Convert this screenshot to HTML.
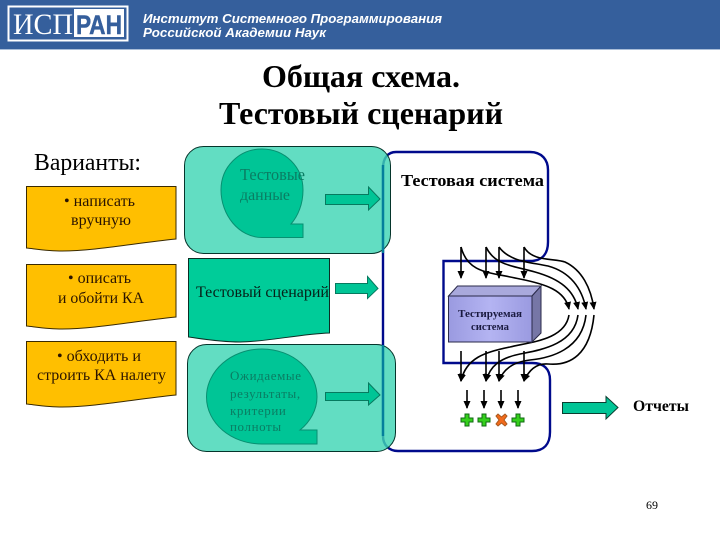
<!DOCTYPE html>
<html><head><meta charset="utf-8"><style>
html,body{margin:0;padding:0;background:#fff;width:720px;height:540px;overflow:hidden}
svg{display:block}
text{font-family:"Liberation Serif","Noto Serif CJK SC",serif}
.s{font-family:"Liberation Sans","Noto Sans CJK SC",sans-serif}
</style></head><body>
<svg width="720" height="540" viewBox="0 0 720 540" xmlns="http://www.w3.org/2000/svg">
<defs>
<marker id="a" markerWidth="8" markerHeight="8" refX="7" refY="4" orient="auto" markerUnits="userSpaceOnUse"><path d="M0,0.5L8,4L0,7.5Z" fill="#000"/></marker>
<linearGradient id="f" x1="0" y1="0" x2="1" y2="0"><stop offset="0" stop-color="#9a9ae0"/><stop offset=".5" stop-color="#b4b4f2"/><stop offset="1" stop-color="#9a9ae0"/></linearGradient>
</defs>
<rect width="720" height="49" fill="#355f9c"/>
<rect y="49" width="720" height="1" fill="#a9bdd8"/>
<rect x="8.500" y="6.500" width="119" height="34" fill="none" stroke="#fff" stroke-width="2"/>
<text x="13" y="34" font-size="30" fill="#fff" textLength="60" lengthAdjust="spacingAndGlyphs">ИСП</text>
<rect x="74" y="9" width="50" height="28" fill="#fff"/>
<text class="s" x="76" y="34" font-size="27" font-weight="bold" fill="#355f9c" stroke="#355f9c" stroke-width=".5" textLength="46" lengthAdjust="spacingAndGlyphs">РАН</text>
<text class="s" x="143" y="23" font-size="13" font-weight="bold" font-style="italic" fill="#fff" textLength="299" lengthAdjust="spacingAndGlyphs">Институт Системного Программирования</text>
<text class="s" x="143" y="37" font-size="13" font-weight="bold" font-style="italic" fill="#fff" textLength="183" lengthAdjust="spacingAndGlyphs">Российской Академии Наук</text>

<text x="262" y="87" font-size="32" font-weight="bold" textLength="198" lengthAdjust="spacingAndGlyphs">Общая схема.</text>
<text x="219" y="124" font-size="32" font-weight="bold" textLength="284" lengthAdjust="spacingAndGlyphs">Тестовый сценарий</text>
<text x="34" y="170" font-size="24" textLength="107" lengthAdjust="spacingAndGlyphs">Варианты:</text>

<g fill="#ffbf00" stroke="#3a2a00" stroke-width="1">
<path d="M26.500,186.500H176V239C135,243 95,251 62,251C48,251 36,249 26.500,248Z"/>
<path d="M26.500,264.500H176V317C135,321 95,329 62,329C48,329 36,327 26.500,326Z"/>
<path d="M26.500,341.500H176V395C135,399 95,407 62,407C48,407 36,405 26.500,404Z"/>
</g>
<g font-size="15.500" fill="#2a1400">
<text x="64" y="206" textLength="71" lengthAdjust="spacingAndGlyphs">• написать</text><text x="71" y="225" textLength="60" lengthAdjust="spacingAndGlyphs">вручную</text>
<text x="68" y="283" textLength="63" lengthAdjust="spacingAndGlyphs">• описать</text><text x="58" y="303" textLength="86" lengthAdjust="spacingAndGlyphs">и обойти КА</text>
<text x="57" y="361" textLength="84" lengthAdjust="spacingAndGlyphs">• обходить и</text><text x="37" y="380" textLength="129" lengthAdjust="spacingAndGlyphs">строить КА налету</text>
</g>

<path d="M383,168C383,158 388,152 396,152H530C542,152 548,160 548,170V242C548,254 542,261 530,261H443.500V363H532C544,363 550,369 550,380V432C550,444 544,451 532,451H398C389,451 383,445 383,436Z" fill="#fff" stroke="#000a8c" stroke-width="2.400"/>

<rect x="184.500" y="146.500" width="206" height="107" rx="19" fill="#3fd6b4" fill-opacity=".82" stroke="#05352b" stroke-width="1"/>
<rect x="187.500" y="344.500" width="208" height="107" rx="19" fill="#3fd6b4" fill-opacity=".82" stroke="#05352b" stroke-width="1"/>
<path d="M383,165V253M383,345V436" stroke="#047f9c" stroke-width="2.400" fill="none"/>
<path d="M188.500,258.500H329.500V333C300,334 265,342 240,342C220,342 203,339 188.500,337Z" fill="#00cc99" stroke="#0b2d24"/>

<path d="M303,237.500H262C239,237.500 221,215 221,190C221,167 239,149 262,149C285,149 303,167 303,190C303,204 298,216 291,224H303Z" fill="#00c596" stroke="#079071"/>
<path d="M317,444H262C231,444 206.500,423 206.500,397C206.500,371 231,349 262,349C293,349 317,371 317,397C317,410 310,422 300,430H317Z" fill="#00c596" stroke="#079071"/>

<text x="240" y="180" font-size="16.500" fill="#0a7d63" textLength="65" lengthAdjust="spacingAndGlyphs">Тестовые</text>
<text x="240" y="200" font-size="16" fill="#0a7d63" textLength="50" lengthAdjust="spacingAndGlyphs">данные</text>
<text x="196" y="297" font-size="15.500" fill="#062018" textLength="133" lengthAdjust="spacingAndGlyphs">Тестовый сценарий</text>
<g font-size="13" fill="#0a7d63" letter-spacing=".6">
<text x="230" y="380">Ожидаемые</text><text x="230" y="398">результаты,</text><text x="230" y="415">критерии</text><text x="230" y="431">полноты</text>
</g>

<g fill="#00c596" stroke="#067a5f">
<path d="M325.500,194.500H368.500V187L380,199L368.500,210V204.500H325.500Z"/>
<path d="M335.500,283.500H367.500V276.500L378,288.500L367.500,298.500V293.500H335.500Z"/>
<path d="M325.500,392.500H368.500V383L380,395L368.500,405V400.500H325.500Z"/>
<path d="M562.500,402.500H606V396.500L618,407.500L606,419V413.500H562.500Z" stroke="#0b3d30"/>
</g>

<text x="401" y="186" font-size="16.500" font-weight="bold" textLength="143" lengthAdjust="spacingAndGlyphs">Тестовая система</text>
<text x="633" y="411" font-size="16" font-weight="bold" textLength="56" lengthAdjust="spacingAndGlyphs">Отчеты</text>
<text x="646" y="509" font-size="12" font-family="Liberation Sans">69</text>

<g fill="none" stroke="#000" stroke-width="1.600">
<path d="M461,247V278" marker-end="url(#a)"/><path d="M486,247V278" marker-end="url(#a)"/><path d="M499,247V278" marker-end="url(#a)"/><path d="M524,247V278" marker-end="url(#a)"/>
<path d="M461,247C468,274 490,272 520,279C545,284 565,290 569,309" marker-end="url(#a)"/>
<path d="M486,247C495,266 515,266 535,272C560,279 574,290 578,309" marker-end="url(#a)"/>
<path d="M499,247C510,262 530,262 548,266C570,272 582,288 586,309" marker-end="url(#a)"/>
<path d="M524,247C532,262 555,258 565,262C582,270 591,288 594,309" marker-end="url(#a)"/>
<path d="M461,351V381" marker-end="url(#a)"/><path d="M486,351V381" marker-end="url(#a)"/><path d="M499,351V381" marker-end="url(#a)"/><path d="M524,351V381" marker-end="url(#a)"/>
<path d="M569,315C565,340 530,342 510,347C485,352 466,358 461,381" marker-end="url(#a)"/>
<path d="M578,315C574,345 540,350 520,354C500,358 490,366 486,381" marker-end="url(#a)"/>
<path d="M586,315C582,350 550,358 530,360C512,362 503,370 499,381" marker-end="url(#a)"/>
<path d="M594,315C590,355 570,366 548,364C535,363 528,372 524,381" marker-end="url(#a)"/>
<path d="M467,390V408" marker-end="url(#a)"/><path d="M484,390V408" marker-end="url(#a)"/><path d="M501,390V408" marker-end="url(#a)"/><path d="M518,390V408" marker-end="url(#a)"/>
</g>

<rect x="448.500" y="296" width="83.500" height="46" fill="url(#f)" stroke="#2a2a4a"/>
<path d="M448.500,296L457.500,286H541L532,296Z" fill="#a9a9dc" stroke="#2a2a4a"/>
<path d="M532,296L541,286V333L532,342Z" fill="#7676a6" stroke="#2a2a4a"/>
<text x="458" y="317" font-size="10.500" font-weight="bold" fill="#1a1a40" textLength="64" lengthAdjust="spacingAndGlyphs">Тестируемая</text>
<text x="471" y="330" font-size="10.500" font-weight="bold" fill="#1a1a40" textLength="38" lengthAdjust="spacingAndGlyphs">система</text>

<g fill="#35d01c" stroke="#0f6a12">
<path d="M465,414h4v4h4v4h-4v4h-4v-4h-4v-4h4Z"/>
<path d="M482,414h4v4h4v4h-4v4h-4v-4h-4v-4h4Z"/>
<path d="M516,414h4v4h4v4h-4v4h-4v-4h-4v-4h4Z"/>
</g>
<path d="M496,416l2-2 3.500,3 3.500-3 2,2-3,4 3,4-2,2-3.500-3-3.500,3-2-2 3-4Z" fill="#f26a1b" stroke="#a8591f"/>
</svg>
</body></html>
